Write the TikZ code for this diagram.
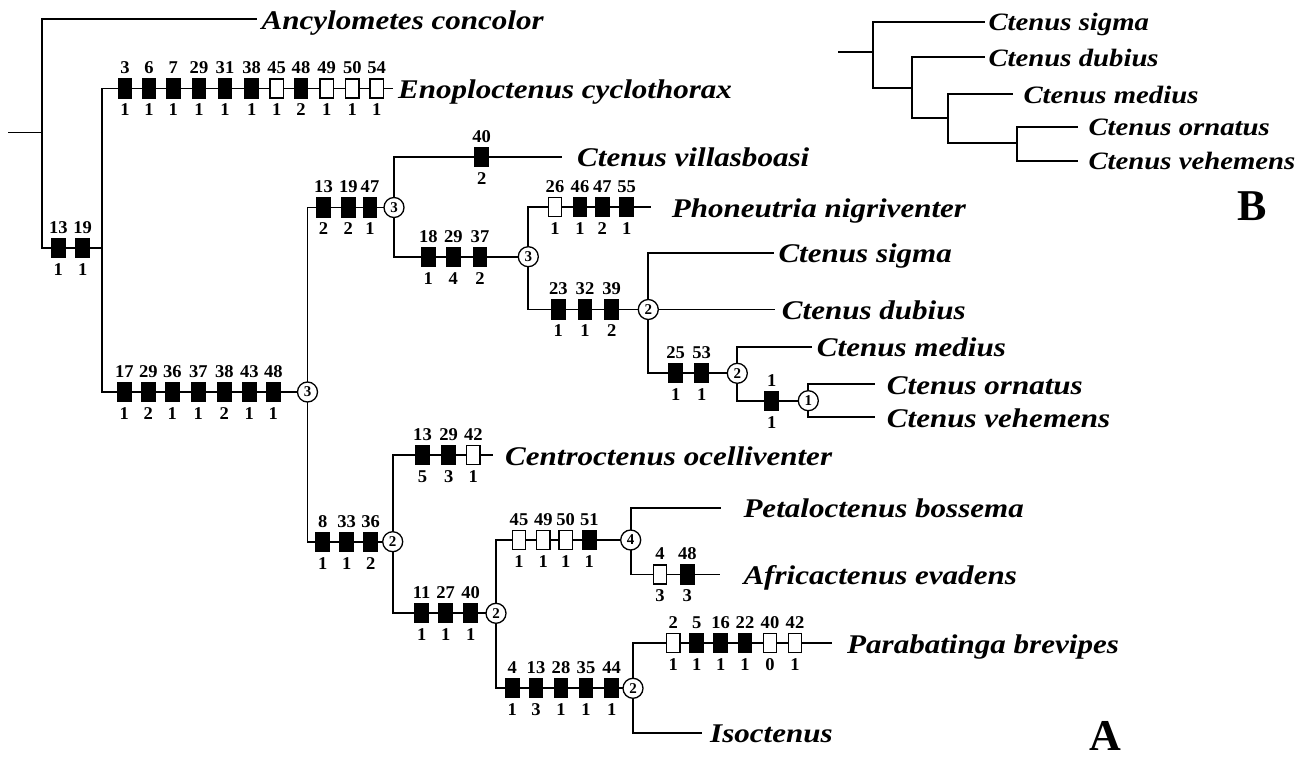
\documentclass[tikz,border=0pt]{standalone}
\usepackage{fontspec}
\setmainfont{Liberation Serif}
\newfontfamily\taxfont[FakeStretch=1.15]{Liberation Serif}
\newfontfamily\numfont[FakeStretch=1.03]{Liberation Serif}
\tikzset{
  edge/.style={line width=1.8pt, line join=miter},
  synbox/.style={draw=black, minimum width=13.5pt, minimum height=19pt, inner sep=0pt, line width=1.2pt},
  numlab/.style={font=\numfont\bfseries\fontsize{18}{18}\selectfont, inner sep=0pt},
  cnode/.style={circle, draw=black, fill=white, minimum size=20pt, inner sep=0pt, line width=1.3pt, font=\bfseries\fontsize{15}{15}\selectfont},
  taxon/.style={font=\taxfont\bfseries\itshape\fontsize{27}{27}\selectfont, anchor=base west, inner sep=0pt},
  taxonb/.style={font=\taxfont\bfseries\itshape\fontsize{25}{25}\selectfont, anchor=base west, inner sep=0pt},
  panel/.style={font=\bfseries\fontsize{44}{44}\selectfont, inner sep=0pt}
}
\newcommand\synrow[3]{%
  \foreach \sxa/\sxb/\sxc/\sxd [count=\sxi] in {#3} {
    \node[synbox, fill=\sxd] (#1-\sxi) at (\sxa,#2) {};
    \node[numlab] (#1-\sxi-t) at (\sxa,#2-20.5) {\sxb};
    \node[numlab] (#1-\sxi-b) at (\sxa,#2+21.5) {\sxc};
  }}
\begin{document}
\begin{tikzpicture}[x=1pt,y=-1pt]
\useasboundingbox (0,0) rectangle (1304,759);
% ---------- tree A: junctions and ends ----------
\coordinate (root) at (8,132.5);
\coordinate (n0) at (41.7,132.5);
\coordinate (e-anc) at (256.7,19.3);
\coordinate (n1) at (101.7,248.3);
\coordinate (e-eno) at (393.3,88.5);
\coordinate (j-a) at (307.5,392);
\coordinate (j-b) at (394,207.5);
\coordinate (e-vil) at (561.7,156.7);
\coordinate (j-c) at (528.3,256.7);
\coordinate (e-pho) at (651,207.3);
\coordinate (j-d) at (648.3,309.5);
\coordinate (e-sig) at (774,252.7);
\coordinate (e-dub) at (775,309.5);
\coordinate (j-e) at (737.3,373.3);
\coordinate (e-med) at (811.7,346.7);
\coordinate (j-f) at (808.3,400.7);
\coordinate (e-orn) at (875,384);
\coordinate (e-veh) at (875,417.3);
\coordinate (j-g) at (392.7,541.7);
\coordinate (e-cen) at (492.5,455);
\coordinate (j-h) at (496,613.3);
\coordinate (j-i) at (630.7,540);
\coordinate (e-pet) at (720.5,507.8);
\coordinate (e-afr) at (720,574.5);
\coordinate (j-j) at (633,688.3);
\coordinate (e-par) at (831.7,643);
\coordinate (e-iso) at (701.7,732.7);
% ---------- tree A: edges ----------
\draw[edge] (root) -- (n0);
\draw[edge] (n0) |- (e-anc);
\draw[edge] (n0) |- (n1);
\draw[edge] (n1) |- (e-eno);
\draw[edge] (n1) |- (j-a);
\draw[edge] (j-a) |- (j-b);
\draw[edge] (j-a) |- (j-g);
\draw[edge] (j-b) |- (e-vil);
\draw[edge] (j-b) |- (j-c);
\draw[edge] (j-c) |- (e-pho);
\draw[edge] (j-c) |- (j-d);
\draw[edge] (j-d) |- (e-sig);
\draw[edge] (j-d) -- (e-dub);
\draw[edge] (j-d) |- (j-e);
\draw[edge] (j-e) |- (e-med);
\draw[edge] (j-e) |- (j-f);
\draw[edge] (j-f) |- (e-orn);
\draw[edge] (j-f) |- (e-veh);
\draw[edge] (j-g) |- (e-cen);
\draw[edge] (j-g) |- (j-h);
\draw[edge] (j-h) |- (j-i);
\draw[edge] (j-i) |- (e-pet);
\draw[edge] (j-i) |- (e-afr);
\draw[edge] (j-h) |- (j-j);
\draw[edge] (j-j) |- (e-par);
\draw[edge] (j-j) |- (e-iso);
% ---------- character boxes ----------
\synrow{r1}{248.3}{58.3/13/1/black, 82.7/19/1/black}
\synrow{r2}{88.5}{125/3/1/black, 149/6/1/black, 173.3/7/1/black, 199/29/1/black, 225/31/1/black, 251.7/38/1/black, 276.7/45/1/white, 301/48/2/black, 326.7/49/1/white, 352.3/50/1/white, 376.7/54/1/white}
\synrow{r3}{392}{124.3/17/1/black, 148.3/29/2/black, 172.3/36/1/black, 198.3/37/1/black, 224.3/38/2/black, 249.3/43/1/black, 273.3/48/1/black}
\synrow{r4}{207.5}{323.5/13/2/black, 348.3/19/2/black, 370/47/1/black}
\synrow{r5}{156.7}{481.7/40/2/black}
\synrow{r6}{256.7}{428.3/18/1/black, 453.3/29/4/black, 480/37/2/black}
\synrow{r7}{207.3}{555/26/1/white, 580/46/1/black, 602.3/47/2/black, 626.7/55/1/black}
\synrow{r8}{309.5}{558.3/23/1/black, 585/32/1/black, 611.7/39/2/black}
\synrow{r9}{373.3}{675.7/25/1/black, 701.7/53/1/black}
\synrow{r10}{400.7}{771.7/1/1/black}
\synrow{r11}{541.7}{322.7/8/1/black, 346.7/33/1/black, 370.7/36/2/black}
\synrow{r12}{455}{422.5/13/5/black, 448.7/29/3/black, 473.3/42/1/white}
\synrow{r13}{613.3}{421.7/11/1/black, 445.7/27/1/black, 470.7/40/1/black}
\synrow{r14}{540}{519/45/1/white, 543.3/49/1/white, 565.7/50/1/white, 589.3/51/1/black}
\synrow{r15}{574.5}{660/4/3/white, 687.3/48/3/black}
\synrow{r16}{688.3}{512.3/4/1/black, 536/13/3/black, 561/28/1/black, 586/35/1/black, 611.7/44/1/black}
\synrow{r17}{643}{673.3/2/1/white, 696.7/5/1/black, 720.7/16/1/black, 745/22/1/black, 770/40/0/white, 795/42/1/white}
% ---------- circled node numbers ----------
\node[cnode] (c-a) at (j-a) {3};
\node[cnode] (c-b) at (j-b) {3};
\node[cnode] (c-c) at (j-c) {3};
\node[cnode] (c-d) at (j-d) {2};
\node[cnode] (c-e) at (j-e) {2};
\node[cnode] (c-f) at (j-f) {1};
\node[cnode] (c-g) at (j-g) {2};
\node[cnode] (c-h) at (j-h) {2};
\node[cnode] (c-i) at (j-i) {4};
\node[cnode] (c-j) at (j-j) {2};
% ---------- taxa A ----------
\node[taxon] (t-anc) at (261.5,29.3) {Ancylometes concolor};
\node[taxon] (t-eno) at (398,98.5) {Enoploctenus cyclothorax};
\node[taxon] (t-vil) at (577,166.7) {Ctenus villasboasi};
\node[taxon] (t-pho) at (671.7,217.3) {Phoneutria nigriventer};
\node[taxon] (t-sig) at (778.3,262.7) {Ctenus sigma};
\node[taxon] (t-dub) at (781.7,319.5) {Ctenus dubius};
\node[taxon] (t-med) at (816.7,356.7) {Ctenus medius};
\node[taxon] (t-orn) at (886.7,394) {Ctenus ornatus};
\node[taxon] (t-veh) at (886.7,427.3) {Ctenus vehemens};
\node[taxon] (t-cen) at (505,465) {Centroctenus ocelliventer};
\node[taxon] (t-pet) at (743.3,517.8) {Petaloctenus bossema};
\node[taxon] (t-afr) at (743.3,584.5) {Africactenus evadens};
\node[taxon] (t-par) at (847,653) {Parabatinga brevipes};
\node[taxon] (t-iso) at (710,742.7) {Isoctenus};
% ---------- tree B ----------
\coordinate (bR) at (838.3,51.7);
\coordinate (b0) at (873.3,51.7);
\coordinate (eb-sig) at (985,21.7);
\coordinate (b1) at (911.7,88.3);
\coordinate (eb-dub) at (985,57.3);
\coordinate (b2) at (947.7,118.3);
\coordinate (eb-med) at (1013.3,94.3);
\coordinate (b3) at (1017.3,143.3);
\coordinate (eb-orn) at (1078.3,126.7);
\coordinate (eb-veh) at (1078.3,161);
\draw[edge] (bR) -- (b0);
\draw[edge] (b0) |- (eb-sig);
\draw[edge] (b0) |- (b1);
\draw[edge] (b1) |- (eb-dub);
\draw[edge] (b1) |- (b2);
\draw[edge] (b2) |- (eb-med);
\draw[edge] (b2) |- (b3);
\draw[edge] (b3) |- (eb-orn);
\draw[edge] (b3) |- (eb-veh);
\node[taxonb] (tb-sig) at (988.3,30.7) {Ctenus sigma};
\node[taxonb] (tb-dub) at (988.3,66.3) {Ctenus dubius};
\node[taxonb] (tb-med) at (1023.3,103.3) {Ctenus medius};
\node[taxonb] (tb-orn) at (1088.3,135.7) {Ctenus ornatus};
\node[taxonb] (tb-veh) at (1088.3,170) {Ctenus vehemens};
% ---------- panel letters ----------
\node[panel] (pA) at (1105,736) {A};
\node[panel] (pB) at (1252,206) {B};
\end{tikzpicture}
\end{document}
